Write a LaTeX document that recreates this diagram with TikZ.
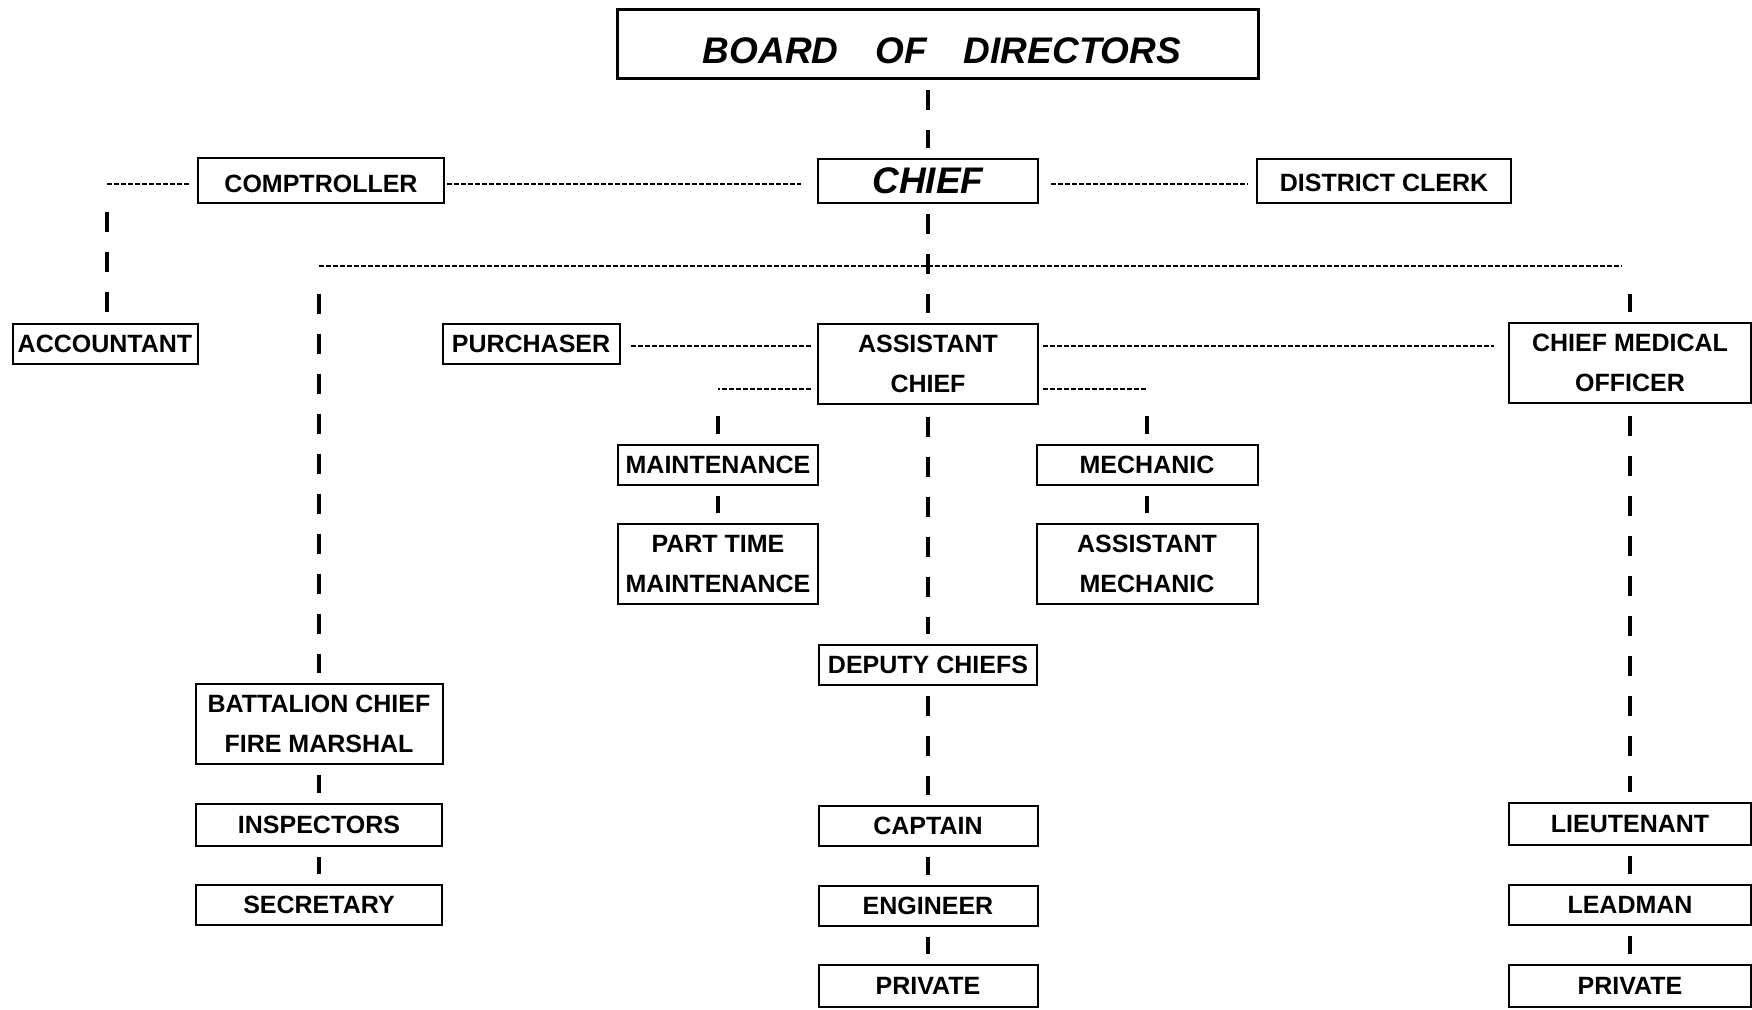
\documentclass[tikz,border=0pt]{standalone}
\usepackage{fontspec}
\setmainfont{Liberation Sans}
\usepackage{tikz}
\usetikzlibrary{calc}

\tikzset{
  box/.style={rectangle, draw=black, line width=1pt, inner sep=0pt, align=center, font=\fontsize{12.5}{20}\selectfont\bfseries},
  heavy/.style={line width=1.8pt, dash pattern=on 10pt off 10pt, shorten <=5pt, shorten >=5pt},
  thin/.style={line width=0.8pt, dash pattern=on 2.5pt off 1pt}
}
% lower a label inside its box without moving the box
\newcommand{\lowered}[2]{\raisebox{-#1}[\height][0pt]{#2}}

\begin{document}
\begin{tikzpicture}[x=0.5pt, y=-0.5pt]
  \useasboundingbox (0,0) rectangle (1752,1010);

  % Top of the chart
  \node (board) [box, minimum width=320.5pt, minimum height=34.5pt, line width=1.5pt, font=\fontsize{18.5}{22}\selectfont\bfseries\itshape] at (938,44) {\hspace{4pt}\lowered{3.5pt}{BOARD\hspace{1em}OF\hspace{1em}DIRECTORS}};
  \node (chief) [box, minimum width=110pt, minimum height=22pt, font=\fontsize{18.5}{22}\selectfont\bfseries\itshape] at (928,181) {CHIEF};
  \node (comptroller) [box, minimum width=123pt, minimum height=22.5pt] at (321,181) {\lowered{1.5pt}{COMPTROLLER}};
  \node (clerk) [box, minimum width=127pt, minimum height=22pt] at (1384,181) {\lowered{1pt}{DISTRICT CLERK}};
  \node (accountant) [box, minimum width=92.5pt, minimum height=20pt] at (105,344) {ACCOUNTANT};

  % Second level
  \node (purchaser) [box, minimum width=88.5pt, minimum height=20pt] at (531,344) {PURCHASER};
  \node (asstchief) [box, minimum width=110pt, minimum height=40pt] at (928,364) {ASSISTANT\\CHIEF};
  \node (medofficer) [box, minimum width=121pt, minimum height=40pt] at (1630,363) {CHIEF MEDICAL\\OFFICER};

  % Shop branches
  \node (maint) [box, minimum width=100pt, minimum height=20pt] at (718,465) {MAINTENANCE};
  \node (parttime) [box, minimum width=100pt, minimum height=40pt] at (718,564) {PART TIME\\MAINTENANCE};
  \node (mechanic) [box, minimum width=110.5pt, minimum height=20pt] at (1147,465) {MECHANIC};
  \node (asstmech) [box, minimum width=110.5pt, minimum height=40pt] at (1147,564) {ASSISTANT\\MECHANIC};

  % Fire prevention column
  \node (battalion) [box, minimum width=123.5pt, minimum height=40pt] at (319,724) {BATTALION CHIEF\\FIRE MARSHAL};
  \node (inspectors) [box, minimum width=123pt, minimum height=21pt] at (319,825) {INSPECTORS};
  \node (secretary) [box, minimum width=123pt, minimum height=20pt] at (319,905) {SECRETARY};

  % Suppression column
  \node (deputies) [box, minimum width=109pt, minimum height=20pt] at (928,665) {DEPUTY CHIEFS};
  \node (captain) [box, minimum width=109.5pt, minimum height=20pt] at (928,826) {CAPTAIN};
  \node (engineer) [box, minimum width=109.5pt, minimum height=20pt] at (928,906) {ENGINEER};
  \node (private) [box, minimum width=109.5pt, minimum height=21pt] at (928,986) {PRIVATE};

  % Medical column
  \node (lieutenant) [box, minimum width=121pt, minimum height=21pt] at (1630,824) {LIEUTENANT};
  \node (leadman) [box, minimum width=121pt, minimum height=20pt] at (1630,905) {LEADMAN};
  \node (medprivate) [box, minimum width=121pt, minimum height=21pt] at (1630,986) {PRIVATE};

  % Corners of the connectors
  \coordinate (acccorner) at (107,184);
  \coordinate (busleft) at (319,266);
  \coordinate (busright) at (1630,266);
  \coordinate (busend) at (1622,266);
  \coordinate (maintcorner) at (718,389);
  \coordinate (mechcorner) at (1147,389);

  % Horizontal connectors
  \draw [thin, shorten <=4pt] ($(comptroller.west)+(0,3)$) -- (acccorner);
  \draw [thin, shorten <=1pt, shorten >=8pt] ($(comptroller.east)+(0,3)$) -- ($(chief.west)+(0,3)$);
  \draw [thin, shorten <=6pt, shorten >=4pt] ($(chief.east)+(0,3)$) -- ($(clerk.west)+(0,3)$);
  \draw [thin] (busleft) -- (busend);
  \draw [thin, shorten <=5pt, shorten >=3pt] ($(purchaser.east)+(0,2)$) -- ($(purchaser.east -| asstchief.west)+(0,2)$);
  \draw [thin, shorten <=2pt, shorten >=7pt] ($(purchaser.east -| asstchief.east)+(0,2)$) -- ($(purchaser.east -| medofficer.west)+(0,2)$);
  \draw [thin, shorten <=3pt] (maintcorner -| asstchief.west) -- (maintcorner);
  \draw [thin, shorten <=2pt] (mechcorner -| asstchief.east) -- (mechcorner);

  % Vertical connectors
  \draw [heavy] (board.south -| chief.north) -- (chief.north);
  \draw [heavy] (chief) -- (asstchief);
  \draw [heavy, shorten <=14pt] (acccorner) -- (acccorner |- accountant.north);
  \draw [heavy, shorten <=14pt] (busleft) -- (battalion);
  \draw [heavy, shorten <=14pt] (busright) -- (medofficer);
  \draw [heavy, shorten <=13.5pt] (maintcorner) -- (maint);
  \draw [heavy, shorten <=13.5pt] (mechcorner) -- (mechanic);
  \draw [heavy] (maint) -- (parttime);
  \draw [heavy] (mechanic) -- (asstmech);
  \draw [heavy] (battalion) -- (inspectors);
  \draw [heavy] (inspectors) -- (secretary);
  \draw [heavy, shorten <=6pt] (asstchief) -- (deputies);
  \draw [heavy] (deputies) -- (captain);
  \draw [heavy] (captain) -- (engineer);
  \draw [heavy] (engineer) -- (private);
  \draw [heavy, shorten <=6pt] (medofficer) -- (lieutenant);
  \draw [heavy] (lieutenant) -- (leadman);
  \draw [heavy] (leadman) -- (medprivate);
\end{tikzpicture}
\end{document}
